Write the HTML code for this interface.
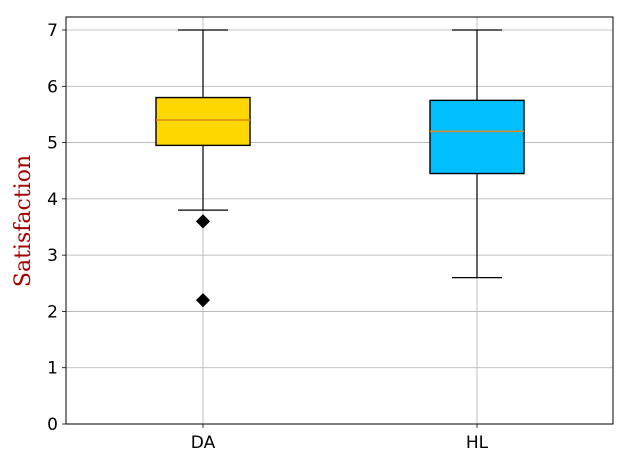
<!DOCTYPE html>
<html><head><meta charset="utf-8"><style>
body{margin:0;background:#fff;}
svg{display:block;font-family:"DejaVu Sans","Liberation Sans",sans-serif;}
</style></head><body>
<svg id="chart" width="634" height="465"></svg>
<script>
const categories = ["DA","HL"];
const whiskerLow = [3.8, 2.6];
const q1 = [4.95, 4.45];
const medians = [5.4, 5.2];
const q3 = [5.8, 5.75];
const whiskerHigh = [7, 7];
const outliers = [[3.6, 2.2], []];
const boxColors = ["#FFD700", "#00BFFF"];
const yTicks = [0,1,2,3,4,5,6,7];

const L=66,R=613,T=17,B=424;
const y = v => 424 - v*(394/7);
const xc = [203, 477];
const NS="http://www.w3.org/2000/svg";
const svg=document.getElementById('chart');
function mk(tag, attrs, parent){const e=document.createElementNS(NS,tag);for(const k in attrs)e.setAttribute(k,attrs[k]);(parent||svg).appendChild(e);return e;}

yTicks.forEach(t=>{
  const g=mk('line',{x1:L,x2:R,y1:y(t),y2:y(t),stroke:'#b0b0b0','stroke-width':0.8});
  
  
  mk('line',{x1:L-4,x2:L,y1:y(t),y2:y(t),stroke:'#000','stroke-width':0.8});
  const tx=mk('text',{x:L-8,y:y(t)+6,'text-anchor':'end','font-size':17,fill:'#000'});
  tx.textContent=t;
  
  
});
categories.forEach((c,i)=>{
  const g=mk('line',{x1:xc[i],x2:xc[i],y1:T,y2:B,stroke:'#b0b0b0','stroke-width':0.8});
  
  
  mk('line',{x1:xc[i],x2:xc[i],y1:B,y2:B+4,stroke:'#000','stroke-width':0.8});
  const tx=mk('text',{x:xc[i],y:B+24,'text-anchor':'middle','font-size':17,fill:'#000'});
  tx.textContent=c;
  
  
});
const bw=94, cw=50;
categories.forEach((c,i)=>{
  const g=mk('g',{});
  
  
  mk('line',{x1:xc[i],x2:xc[i],y1:y(whiskerLow[i]),y2:y(q1[i]),stroke:'#000','stroke-width':1.2},g);
  mk('line',{x1:xc[i],x2:xc[i],y1:y(q3[i]),y2:y(whiskerHigh[i]),stroke:'#000','stroke-width':1.2},g);
  mk('line',{x1:xc[i]-cw/2,x2:xc[i]+cw/2,y1:y(whiskerLow[i]),y2:y(whiskerLow[i]),stroke:'#000','stroke-width':1.2},g);
  mk('line',{x1:xc[i]-cw/2,x2:xc[i]+cw/2,y1:y(whiskerHigh[i]),y2:y(whiskerHigh[i]),stroke:'#000','stroke-width':1.2},g);
  mk('rect',{x:xc[i]-bw/2,y:y(q3[i]),width:bw,height:y(q1[i])-y(q3[i]),fill:boxColors[i],stroke:'#000','stroke-width':1.4},g);
  mk('line',{x1:xc[i]-bw/2,x2:xc[i]+bw/2,y1:y(medians[i]),y2:y(medians[i]),stroke:'#e08a1e','stroke-width':1.5},g);
  outliers[i].forEach(v=>{
    const d=mk('rect',{x:xc[i]-5,y:y(v)-5,width:10,height:10,fill:'#000',transform:`rotate(45 ${xc[i]} ${y(v)})`},g);
    
    
  });
});
const fr=mk('rect',{x:L,y:T,width:R-L,height:B-T,fill:'none',stroke:'#000','stroke-width':1});


const yl=mk('text',{x:0,y:0,transform:'translate(30,221) rotate(-90)','text-anchor':'middle','font-size':22,fill:'#a00000','font-family':'"DejaVu Serif","Liberation Serif",serif'});
yl.textContent='Satisfaction';


</script>
</body></html>
